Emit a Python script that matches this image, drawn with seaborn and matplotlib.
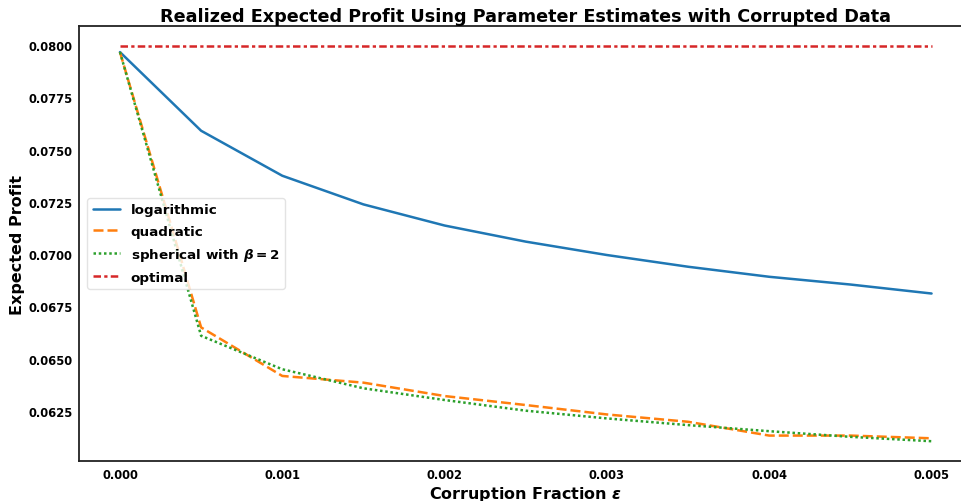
import matplotlib
matplotlib.use("Agg")
import matplotlib.pyplot as plt
import seaborn as sns
import pandas as pd

eps = [0.0, 0.0005, 0.001, 0.0015, 0.002, 0.0025, 0.003, 0.0035, 0.004, 0.0045, 0.005]
logarithmic = [0.07966, 0.07590, 0.07375, 0.07238, 0.07137, 0.07060, 0.06996, 0.06940,
               0.06892, 0.06855, 0.06812]
quadratic = [0.07966, 0.06650, 0.06418, 0.06386, 0.06322, 0.06279, 0.06234, 0.06199,
             0.06133, 0.06133, 0.06120]
spherical = [0.07966, 0.06610, 0.06450, 0.06359, 0.06303, 0.06252, 0.06215, 0.06183,
             0.06154, 0.06127, 0.06106]
optimal = [0.07995] * len(eps)

labels = ["logarithmic", "quadratic", r"spherical with $\beta = 2$", "optimal"]
series = [logarithmic, quadratic, spherical, optimal]

df = pd.concat(
    [pd.DataFrame({"eps": eps, "profit": vals, "method": lab}) for lab, vals in zip(labels, series)],
    ignore_index=True,
)

sns.set_style("white")
plt.rcParams["font.family"] = ["DejaVu Sans"]
plt.rcParams["mathtext.fontset"] = "custom"
plt.rcParams["mathtext.rm"] = "DejaVu Sans:bold"
plt.rcParams["mathtext.it"] = "DejaVu Sans:italic:bold"
plt.rcParams["mathtext.bf"] = "DejaVu Sans:bold"
plt.rcParams["mathtext.sf"] = "DejaVu Sans:bold"
plt.rcParams["mathtext.default"] = "it"
plt.rcParams["text.color"] = "black"
plt.rcParams["axes.labelcolor"] = "black"

fig = plt.figure(figsize=(9.61, 5.02), dpi=100)
ax = fig.add_axes([0.0826, 0.0797, 0.929, 0.866])

palette = ["#1f77b4", "#ff7f0e", "#2ca02c", "#d62728"]
dashes = ["", (4, 1.6), (1, 1.1), (3, 1.3, 1.3, 1.3)]
sns.lineplot(data=df, x="eps", y="profit", hue="method", style="method",
             palette=palette, dashes=dashes, linewidth=1.8, ax=ax)

ax.set_xticks([0.0, 0.001, 0.002, 0.003, 0.004, 0.005])
ax.set_xticklabels(["0.000", "0.001", "0.002", "0.003", "0.004", "0.005"])
yt = [0.0625, 0.0650, 0.0675, 0.0700, 0.0725, 0.0750, 0.0775, 0.0800]
ax.set_yticks(yt)
ax.set_yticklabels([f"{v:.4f}" for v in yt])
ax.margins(x=0.05, y=0.05)

for lab in ax.get_xticklabels() + ax.get_yticklabels():
    lab.set_fontweight("bold")
    lab.set_fontsize(8.3)
ax.tick_params(axis="both", length=3, width=0.8, colors="#333333", direction="out", pad=2)
ax.tick_params(axis="both", labelcolor="black")

for s in ax.spines.values():
    s.set_color("#222222")
    s.set_linewidth(1.3)

ax.set_xlabel(r"Corruption Fraction $\epsilon$", fontsize=11.5, fontweight="bold", labelpad=2)
ax.set_ylabel("Expected Profit", fontsize=11.5, fontweight="bold", labelpad=2)
ax.set_title("Realized Expected Profit Using Parameter Estimates with Corrupted Data",
             fontsize=12.7, fontweight="bold", pad=4)

leg = ax.legend(loc="center left", prop={"weight": "bold", "size": 9.7}, frameon=True,
                borderaxespad=0.6, handlelength=2.0, labelspacing=0.6)
leg.get_frame().set_edgecolor("#dddddd")

fig.savefig("out.png", dpi=100)
